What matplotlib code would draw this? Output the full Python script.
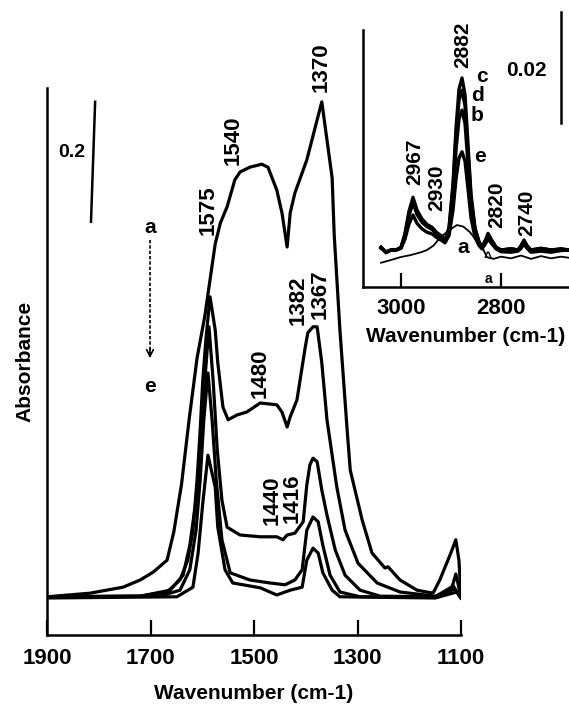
import matplotlib
matplotlib.use('Agg')
import matplotlib.pyplot as plt

plt.rcParams.update({
    'font.family': ['Liberation Sans', 'DejaVu Sans'],
    'font.weight': 'bold',
    'axes.linewidth': 1.8,
})

# ── main spectra (1900-1100 cm-1) ────────────────────────────────
wn_a = [1900, 1817, 1753, 1720, 1695, 1668, 1655, 1640, 1625, 1610, 1595, 1585,
        1575, 1565, 1552, 1537, 1527, 1508, 1485, 1473, 1456, 1446, 1436, 1430,
        1421, 1398, 1378, 1369, 1349, 1345, 1334, 1320, 1314, 1291, 1272, 1247,
        1241, 1218, 1185, 1154, 1141, 1121, 1110, 1104, 1100]
abs_a = [0.002, 0.008, 0.018, 0.030, 0.043, 0.063, 0.11, 0.19, 0.30, 0.40, 0.47, 0.53,
         0.59, 0.625, 0.652, 0.697, 0.710, 0.718, 0.723, 0.718, 0.680, 0.642, 0.585, 0.642,
         0.675, 0.730, 0.797, 0.827, 0.700, 0.605, 0.447, 0.280, 0.213, 0.130, 0.075, 0.050,
         0.052, 0.030, 0.013, 0.008, 0.030, 0.072, 0.097, 0.063, 0.005]

wn_b = [1900, 1720, 1668, 1643, 1628, 1618, 1610, 1604, 1599, 1593, 1585, 1575, 1570,
        1560, 1550, 1533, 1514, 1488, 1456, 1446, 1436, 1430, 1417, 1401, 1396, 1386,
        1378, 1369, 1359, 1340, 1324, 1299, 1262, 1218, 1150, 1120, 1110, 1100]
abs_b = [0.002, 0.003, 0.010, 0.030, 0.063, 0.113, 0.197, 0.280, 0.363, 0.430, 0.502, 0.447, 0.392,
         0.318, 0.297, 0.305, 0.310, 0.325, 0.322, 0.310, 0.285, 0.302, 0.330, 0.418, 0.442, 0.452,
         0.452, 0.392, 0.297, 0.185, 0.113, 0.058, 0.025, 0.010, 0.003, 0.010, 0.040, 0.002]

wn_c = [1900, 1720, 1662, 1637, 1624, 1612, 1604, 1595, 1587, 1579, 1571, 1562, 1552,
        1527, 1488, 1456, 1444, 1436, 1421, 1405, 1398, 1392, 1386, 1378, 1369, 1359,
        1343, 1324, 1295, 1256, 1150, 1115, 1100]
abs_c = [0.002, 0.003, 0.013, 0.038, 0.088, 0.163, 0.247, 0.363, 0.452, 0.363, 0.247, 0.163, 0.118,
         0.105, 0.102, 0.102, 0.097, 0.105, 0.108, 0.127, 0.188, 0.222, 0.233, 0.227, 0.180, 0.138,
         0.080, 0.038, 0.013, 0.003, 0.002, 0.020, 0.0]

wn_d = [1900, 1682, 1643, 1624, 1612, 1604, 1597, 1589, 1581, 1573, 1562, 1546, 1508,
        1469, 1440, 1421, 1407, 1398, 1386, 1376, 1367, 1353, 1334, 1295, 1150, 1112, 1100]
abs_d = [0.002, 0.003, 0.013, 0.047, 0.113, 0.197, 0.297, 0.375, 0.297, 0.197, 0.097, 0.042, 0.030,
         0.025, 0.022, 0.030, 0.047, 0.113, 0.135, 0.127, 0.088, 0.038, 0.010, 0.002, 0.002, 0.015, 0.0]

wn_e = [1900, 1649, 1618, 1608, 1599, 1589, 1575, 1570, 1556, 1541, 1488, 1456,
        1430, 1407, 1398, 1386, 1376, 1367, 1349, 1334, 1150, 1108, 1100]
abs_e = [0.0, 0.002, 0.018, 0.075, 0.158, 0.238, 0.185, 0.118, 0.047, 0.025, 0.017, 0.005,
         0.013, 0.018, 0.063, 0.083, 0.075, 0.042, 0.013, 0.002, 0.0, 0.010, 0.0]

main_ticks = [1900, 1700, 1500, 1300, 1100]
main_peaks = [('1575', 1589, 0.647), ('1540', 1541, 0.763), ('1370', 1370, 0.885),
              ('1480', 1488, 0.375), ('1382', 1415, 0.497), ('1367', 1372, 0.507),
              ('1440', 1465, 0.163), ('1416', 1427, 0.167)]

# ── inset spectra (C-H region) ───────────────────────────────────
wn_ins = [3040, 3030, 3020, 3010, 3000, 2992, 2984, 2976, 2968, 2958, 2948, 2938, 2928,
          2920, 2912, 2904, 2896, 2890, 2884, 2878, 2872, 2866, 2860, 2852, 2844, 2838,
          2830, 2826, 2820, 2810, 2800, 2780, 2766, 2760, 2754, 2748, 2740, 2720, 2700,
          2680, 2664]
ins_c = [0.0005, -0.0005, 0.0, 0.0, 0.0005, 0.003, 0.007, 0.0095, 0.0072, 0.0056, 0.0046, 0.0041, 0.0031,
         0.0026, 0.0018, 0.004, 0.012, 0.022, 0.029, 0.031, 0.028, 0.019, 0.010, 0.004, 0.0015, 0.0005,
         0.002, 0.003, 0.002, 0.0005, 0.0, 0.0002, 0.0, 0.0008, 0.0018, 0.0008, 0.0, 0.0003, 0.0,
         0.0002, 0.0]
ins_d = [0.0005, -0.0004, 0.0, 0.0, 0.0004, 0.0028, 0.0066, 0.009, 0.0068, 0.0053, 0.0044, 0.0039, 0.003,
         0.0024, 0.0017, 0.0038, 0.0112, 0.0205, 0.027, 0.0288, 0.026, 0.0177, 0.0093, 0.0037, 0.0014, 0.0005,
         0.0019, 0.0028, 0.0019, 0.0005, 0.0, 0.0002, 0.0, 0.0007, 0.0016, 0.0007, 0.0, 0.0003, 0.0,
         0.0002, 0.0]
ins_b = [0.0004, -0.0004, 0.0, 0.0, 0.0004, 0.0026, 0.0062, 0.0085, 0.0064, 0.005, 0.0042, 0.0037, 0.0028,
         0.0023, 0.0016, 0.0034, 0.0098, 0.018, 0.0236, 0.0252, 0.0228, 0.0155, 0.0082, 0.0033, 0.0012, 0.0004,
         0.0017, 0.0026, 0.0017, 0.0004, 0.0, 0.0002, 0.0, 0.0006, 0.0015, 0.0006, 0.0, 0.0002, 0.0,
         0.0001, 0.0]
ins_e = [0.0003, -0.0003, 0.0, 0.0, 0.0003, 0.002, 0.0047, 0.0063, 0.0048, 0.0038, 0.0032, 0.0029, 0.0022,
         0.0018, 0.0013, 0.0026, 0.0072, 0.0128, 0.0166, 0.0177, 0.016, 0.011, 0.0058, 0.0023, 0.0008, 0.0002,
         0.0013, 0.002, 0.0013, 0.0002, -0.0003, -0.0004, -0.0002, 0.0003, 0.0011, 0.0003, -0.0004, -0.0002, -0.0004,
         -0.0001, 0.0]
wn_ins_a = [3040, 3020, 3002, 2980, 2960, 2948, 2935, 2922, 2905, 2888, 2875, 2862, 2850,
            2842, 2828, 2815, 2800, 2780, 2760, 2740, 2720, 2700, 2680, 2664]
ins_a = [-0.0023, -0.0018, -0.0013, -0.0009, -0.0004, 0.0, 0.0008, 0.0022, 0.0035, 0.0045, 0.0042, 0.0032, 0.0018,
         0.0013, -0.0013, -0.0016, -0.0012, -0.0015, -0.0010, -0.0016, -0.0011, -0.0015, -0.0012, -0.0014]

ins_ticks = [3000, 2800]
ins_peaks = [('2967', 2972, 0.0159), ('2930', 2928, 0.0112), ('2882', 2876, 0.0369),
             ('2820', 2808, 0.0081), ('2740', 2748, 0.0067)]
ins_letters = [('c', 2838, 0.0312), ('d', 2848, 0.0279), ('b', 2848, 0.0243),
               ('e', 2842, 0.0168), ('a', 2876, 0.0005)]

fig = plt.figure(figsize=(5.69, 7.08), dpi=100)

# ── main panel ───────────────────────────────────────────────────
ax = fig.add_axes([0.0826, 0.1031, 0.7276, 0.7726])
for w, a in [(wn_a, abs_a), (wn_b, abs_b), (wn_c, abs_c), (wn_d, abs_d), (wn_e, abs_e)]:
    ax.plot(w, a, color='black', lw=2.3, solid_joinstyle='round')

ax.set_xlim(1900, 1100)
ax.set_ylim(-0.0617, 0.85)
ax.spines['top'].set_visible(False)
ax.spines['right'].set_visible(False)
ax.set_yticks([])
ax.set_xticks(main_ticks)
ax.tick_params(axis='x', direction='in', length=11, width=1.6, pad=9, labelsize=16)
ax.set_xlabel('Wavenumber (cm-1)', fontsize=15, fontweight='bold', labelpad=11)
ax.set_ylabel('Absorbance', fontsize=15, fontweight='bold', labelpad=9)

for txt, x, y in main_peaks:
    ax.text(x, y, txt, rotation=90, ha='center', va='center', fontsize=16)

# scale bar 0.2
ax.plot([1807, 1815], [0.827, 0.627], color='black', lw=1.8)
ax.text(1852, 0.743, '0.2', ha='center', va='center', fontsize=14)

# a -> e arrow
ax.text(1701, 0.618, 'a', ha='center', va='center', fontsize=15)
ax.text(1701, 0.352, 'e', ha='center', va='center', fontsize=15)
ax.plot([1701, 1701], [0.597, 0.405], color='black', lw=1.2, ls=(0, (2, 1.2)))
ax.annotate('', xy=(1701, 0.395), xytext=(1701, 0.42),
            arrowprops=dict(arrowstyle='->', lw=1.2, color='black', mutation_scale=12))

# ── inset ────────────────────────────────────────────────────────
ins = fig.add_axes([0.638, 0.5946, 0.362, 0.363])
ins.patch.set_alpha(0)
ins.plot(wn_ins_a, ins_a, color='black', lw=1.3)
for s in [ins_e, ins_b, ins_d, ins_c]:
    ins.plot(wn_ins, s, color='black', lw=2.4)

ins.set_xlim(3076, 2664)
ins.set_ylim(-0.00667, 0.03964)
ins.spines['top'].set_visible(False)
ins.spines['right'].set_visible(False)
ins.set_yticks([])
ins.set_xticks(ins_ticks)
ins.tick_params(axis='x', direction='in', length=10, width=1.6, pad=8, labelsize=16)
ins.set_xlabel('Wavenumber (cm-1)', fontsize=15, fontweight='bold', labelpad=6)

for txt, x, y in ins_peaks:
    ins.text(x, y, txt, rotation=90, ha='center', va='center', fontsize=15)
for txt, x, y in ins_letters:
    ins.text(x, y, txt, ha='center', va='center', fontsize=15)
ins.text(2826, -0.0014, '^', ha='center', va='center', fontsize=10)
ins.text(2826, -0.0052, 'a', ha='center', va='center', fontsize=10)

# scale bar 0.02
ins.plot([2680, 2680], [0.0429, 0.0229], color='black', lw=1.8, clip_on=False)
ins.text(2750, 0.0324, '0.02', ha='center', va='center', fontsize=15)

fig.savefig('out.png', dpi=100)
